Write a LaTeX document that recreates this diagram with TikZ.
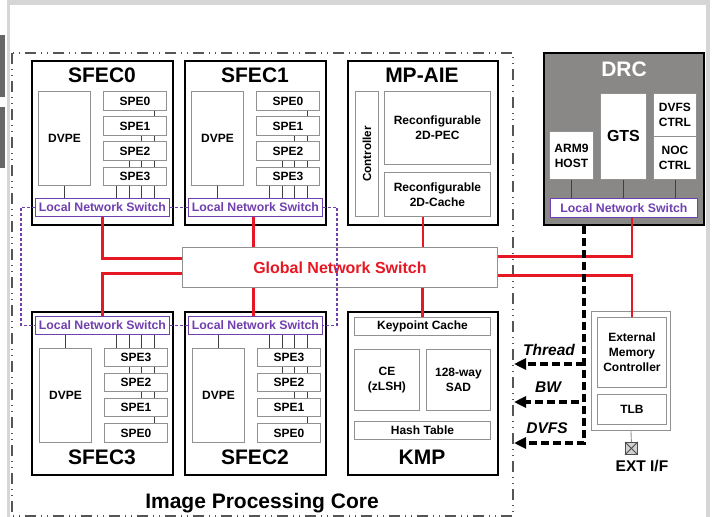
\documentclass[tikz,border=0pt]{standalone}
\usepackage{fontspec}
\setmainfont{Liberation Sans}
\usetikzlibrary{arrows.meta,calc}

\definecolor{lnspurple}{RGB}{112,64,176}
\definecolor{netred}{RGB}{230,24,36}
\definecolor{boxgray}{RGB}{145,145,145}
\definecolor{drcgray}{RGB}{138,136,134}
\definecolor{framegray}{RGB}{214,214,214}
\definecolor{tabgray}{RGB}{105,103,101}
\definecolor{coreline}{RGB}{85,85,85}

\newcommand\boldsz[2]{\fontsize{#1}{#2}\selectfont\bfseries}

% box from corner (x1,y1) to corner (x2,y2): name, style, x1, y1, x2, y2, text
\newcommand\mkbox[7]{%
  \node[#2, anchor=north west, inner sep=0pt,
        minimum width={(#5)-(#3)}, minimum height={(#6)-(#4)}] (#1) at ({#3},{#4}) {#7};}

\tikzset{
  blk/.style={draw=black, line width=2pt, fill=white},
  sub/.style={draw=boxgray, line width=0.9pt, fill=white, align=center, font=\boldsz{12}{15}},
  lns/.style={draw=lnspurple, line width=0.9pt, fill=white, text=lnspurple, font=\boldsz{12.3}{14}},
  gnsbox/.style={draw=boxgray, line width=0.9pt, fill=white, text=netred, font=\boldsz{16}{18}},
  drcbox/.style={draw=black, line width=2pt, fill=drcgray},
  wire/.style={draw=black!75, line width=0.9pt},
  redlink/.style={draw=netred, line width=2.1pt},
  ring/.style={draw=lnspurple, line width=1.6pt, dash pattern=on 3pt off 2pt},
  ctrl/.style={draw=black, line width=4pt, dash pattern=on 8pt off 4pt},
  ctrlarrow/.style={ctrl, -{Triangle[length=12pt,width=11pt]}},
  ttl/.style={font=\boldsz{21}{24}, anchor=base, inner sep=0pt},
  lbl/.style={font=\boldsz{15.5}{18}\itshape, anchor=base, inner sep=0pt},
  coreframe/.style={draw=coreline, line width=1.3pt,
    dash pattern=on 11pt off 5pt on 1pt off 5pt on 1pt off 5pt},
}

% SFEC cluster with the switch at the bottom: prefix, left x, title
\newcommand\sfectop[3]{%
  \mkbox{#1}{blk}{#2}{60}{#2+141}{224}{}
  \node[ttl] (#1t) at (#2+71,82) {#3};
  \mkbox{#1dv}{sub}{#2+7}{91}{#2+59}{185}{DVPE}
  \mkbox{#1p0}{sub}{#2+72}{91}{#2+135}{110}{SPE0}
  \mkbox{#1p1}{sub}{#2+72}{116}{#2+135}{135}{SPE1}
  \mkbox{#1p2}{sub}{#2+72}{141}{#2+135}{160}{SPE2}
  \mkbox{#1p3}{sub}{#2+72}{167}{#2+135}{185}{SPE3}
  \mkbox{#1ln}{lns}{#2+4}{198}{#2+138}{216}{Local Network Switch}
  \draw[wire] (#1dv.south) -- (#1dv.south |- #1ln.north);
  \foreach \o in {51}
    \draw[wire] ([xshift=\o pt]#1p0.south west) -- ([xshift=\o pt]#1p1.north west);
  \foreach \o in {38,51}
    \draw[wire] ([xshift=\o pt]#1p1.south west) -- ([xshift=\o pt]#1p2.north west);
  \foreach \o in {26,38,51}
    \draw[wire] ([xshift=\o pt]#1p2.south west) -- ([xshift=\o pt]#1p3.north west);
  \foreach \o in {13,26,38,51}
    \draw[wire] ([xshift=\o pt]#1p3.south west) -- ([xshift={(\o+68)*1pt}]#1ln.north west);
}

% SFEC cluster with the switch at the top: prefix, left x, title
\newcommand\sfecbot[3]{%
  \mkbox{#1}{blk}{#2}{311}{#2+141}{474}{}
  \node[ttl] (#1t) at (#2+71,464) {#3};
  \mkbox{#1ln}{lns}{#2+4}{316}{#2+138}{334}{Local Network Switch}
  \mkbox{#1dv}{sub}{#2+8}{348}{#2+60}{442}{DVPE}
  \mkbox{#1p3}{sub}{#2+73}{348}{#2+136}{366}{SPE3}
  \mkbox{#1p2}{sub}{#2+73}{373}{#2+136}{391}{SPE2}
  \mkbox{#1p1}{sub}{#2+73}{398}{#2+136}{416}{SPE1}
  \mkbox{#1p0}{sub}{#2+73}{423}{#2+136}{442}{SPE0}
  \draw[wire] (#1dv.north |- #1ln.south) -- (#1dv.north);
  \foreach \o in {12,25,37,50}
    \draw[wire] ([xshift={(\o+69)*1pt}]#1ln.south west) -- ([xshift=\o pt]#1p3.north west);
  \foreach \o in {25,37,50}
    \draw[wire] ([xshift=\o pt]#1p3.south west) -- ([xshift=\o pt]#1p2.north west);
  \foreach \o in {37,50}
    \draw[wire] ([xshift=\o pt]#1p2.south west) -- ([xshift=\o pt]#1p1.north west);
  \foreach \o in {50}
    \draw[wire] ([xshift=\o pt]#1p1.south west) -- ([xshift=\o pt]#1p0.north west);
}

\begin{document}
\begin{tikzpicture}[x=1pt,y=-1pt]
\useasboundingbox (0,0) rectangle (713,517);

% window chrome
\fill[framegray] (7,0) rectangle (710,5);
\fill[framegray] (7,0) rectangle (10,517);
\fill[framegray] (706,0) rectangle (710,517);
\fill[tabgray] (0,35) rectangle (5,97);
\fill[tabgray] (0,107) rectangle (5,168);

% image processing core boundary
\draw[coreframe] (12,53) rectangle (513,516);
\node[ttl] (ipc) at (262,508) {Image Processing Core};

% SFEC clusters
\sfectop{sa}{31}{SFEC0}
\sfectop{sb}{184}{SFEC1}
\sfecbot{sd}{31}{SFEC3}
\sfecbot{sc}{184}{SFEC2}

% MP-AIE
\mkbox{aie}{blk}{347}{60}{497}{224}{}
\node[ttl] (aiet) at (422,82) {MP-AIE};
\mkbox{ctl}{sub}{355}{91}{378}{216}{}
\node[rotate=90, font=\boldsz{11.7}{14}, inner sep=0pt] (ctlt) at (ctl.center) {Controller};
\mkbox{pec}{sub}{384}{91}{490}{164}{Reconfigurable\\2D-PEC}
\mkbox{cache}{sub}{384}{172}{490}{216}{Reconfigurable\\2D-Cache}

% DRC
\mkbox{drc}{drcbox}{543}{52}{703}{224}{}
\node[ttl, text=white] (drct) at (624,76) {DRC};
\mkbox{arm}{sub}{549}{131}{593}{179}{ARM9\\HOST}
\mkbox{gts}{sub, font=\boldsz{16}{18}}{600}{93}{646}{179}{GTS}
\mkbox{dvfs}{sub}{653}{93}{696}{136}{DVFS\\CTRL}
\mkbox{noc}{sub}{653}{136}{696}{179}{NOC\\CTRL}
\mkbox{dln}{lns}{550}{198}{697}{217}{Local Network Switch}
\draw[wire] (arm.south) -- (arm.south |- dln.north);
\draw[wire] (gts.south) -- (gts.south |- dln.north);
\draw[wire] (noc.south) -- (noc.south |- dln.north);

% global switch
\mkbox{gns}{gnsbox}{182}{247}{497}{287}{Global Network Switch}

% KMP
\mkbox{kmp}{blk}{347}{311}{497}{474}{}
\node[ttl] (kmpt) at (422,464) {KMP};
\mkbox{kpc}{sub}{354}{317}{490}{335}{Keypoint Cache}
\mkbox{ce}{sub}{354}{349}{419}{410}{CE\\(zLSH)}
\mkbox{sad}{sub}{426}{349}{490}{410}{128-way\\SAD}
\mkbox{hash}{sub}{354}{421}{490}{439}{Hash Table}

% external memory controller
\mkbox{ext}{sub}{591}{311}{670}{430}{}
\mkbox{emc}{sub}{597}{317}{666}{387}{External\\Memory\\Controller}
\mkbox{tlb}{sub}{597}{394}{666}{424}{TLB}
\mkbox{pad}{draw=black!70, line width=0.8pt, fill=black!18}{625}{442}{637}{454}{}
\draw[black!70, line width=0.8pt] (pad.north west) -- (pad.south east) (pad.north east) -- (pad.south west);
\draw[boxgray, line width=0.9pt] (ext.south) -- (pad.north);
\node[font=\boldsz{15.5}{18}, anchor=base, inner sep=0pt] (extif) at (642,471) {EXT I/F};

% global network links
\draw[redlink] (sa.south |- saln.south) |- ([yshift=9pt]gns.west);
\draw[redlink] (sdln.north) |- ([yshift=-6pt]gns.west);
\draw[redlink] ([xshift=-2pt]sbln.south) -- ([xshift=-2pt]sbln.south |- gns.north);
\draw[redlink] ([xshift=-2pt]scln.north) -- ([xshift=-2pt]scln.north |- gns.south);
\draw[redlink] (cache.south -| aie.center) -- (aie.center |- gns.north);
\draw[redlink] (kpc.north) -- (kpc.north |- gns.south);
\draw[redlink] ([yshift=11pt]gns.east) -| ([xshift=8pt]dln.south);
\draw[redlink] ([yshift=-8pt]gns.east) -| (emc.north);

% local ring between the SFEC switches
\draw[ring] (saln.east) -- (sbln.west);
\draw[ring] (sdln.east) -- (scln.west);
\draw[ring] (saln.west) -- ++(-14,0) |- (sdln.west);
\draw[ring] (sbln.east) -- ++(14,0) |- (scln.east);

% control signals from the DRC
\coordinate (tap) at ([xshift=-40pt]drc.south);
\coordinate (thrin) at (514,364);
\coordinate (bwin) at (514,402);
\coordinate (dvfsin) at (514,443);
\draw[ctrlarrow] (tap) |- (dvfsin);
\draw[ctrlarrow] (tap |- thrin) -- (thrin);
\draw[ctrlarrow] ([xshift=-5pt]tap |- bwin) -- (bwin);
\node[lbl] (thrl) at (549,355) {Thread};
\node[lbl] (bwl) at (548,392) {BW};
\node[lbl] (dvfsl) at (547,433) {DVFS};
\end{tikzpicture}
\end{document}
